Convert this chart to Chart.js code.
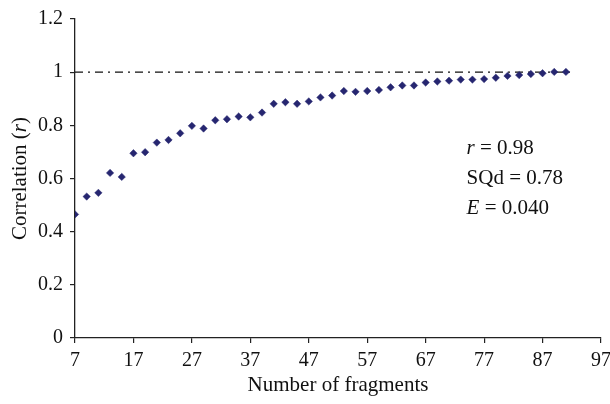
<!DOCTYPE html>
<html><head><meta charset="utf-8">
<script src="https://cdn.jsdelivr.net/npm/chart.js@4.4.0/dist/chart.umd.min.js"></script>
<style>html,body{margin:0;padding:0;background:#fff;}#wrap{width:610px;height:404px;}</style>
</head><body><div id="wrap"><canvas id="c" width="610" height="404"></canvas></div>
<script>
const fragments = [7,9,11,13,15,17,19,21,23,25,27,29,31,33,35,37,39,41,43,45,47,49,51,53,55,57,59,61,63,65,67,69,71,73,75,77,79,81,83,85,87,89,91];
const correlation = [0.465,0.532,0.546,0.621,0.606,0.695,0.699,0.735,0.745,0.770,0.798,0.788,0.819,0.823,0.833,0.830,0.848,0.881,0.887,0.881,0.890,0.905,0.912,0.929,0.926,0.929,0.933,0.943,0.950,0.950,0.961,0.965,0.968,0.972,0.972,0.974,0.979,0.986,0.989,0.993,0.996,1.001,1.001];
const refLineX = [7, 92];
const refLineY = [1, 1];
const xTicks = [7,17,27,37,47,57,67,77,87,97];
const yTicks = [0,0.2,0.4,0.6,0.8,1,1.2];
const statItalic = ['r', '', 'E'];
const statRest = [' = 0.98', 'SQd = 0.78', ' = 0.040'];
const statY = [0.713, 0.600, 0.487];
const statX = 74;
const xTitle = 'Number of fragments';
const yTitleParts = ['Correlation (', 'r', ')'];

const FONT = '"Liberation Serif", "Times New Roman", serif';
const AX = '#222';

const annot = {
  id: 'annot',
  afterDraw(chart) {
    const ctx = chart.ctx, xs = chart.scales.x, ys = chart.scales.y;
    ctx.save();
    ctx.fillStyle = '#111';
    ctx.textBaseline = 'middle';
    for (let i = 0; i < statRest.length; i++) {
      let px = xs.getPixelForValue(statX), py = ys.getPixelForValue(statY[i]);
      if (statItalic[i]) {
        ctx.font = 'italic 21px ' + FONT;
        ctx.fillText(statItalic[i], px, py);
        px += ctx.measureText(statItalic[i]).width;
      }
      ctx.font = '21px ' + FONT;
      ctx.fillText(statRest[i], px, py);
    }
    // y title
    const fonts = ['21px ' + FONT, 'italic 21px ' + FONT, '21px ' + FONT];
    let total = 0;
    const widths = yTitleParts.map((t, i) => { ctx.font = fonts[i]; const w = ctx.measureText(t).width; total += w; return w; });
    const cy = (chart.chartArea.top + chart.chartArea.bottom) / 2;
    ctx.translate(20, cy);
    ctx.rotate(-Math.PI / 2);
    let x0 = -total / 2;
    yTitleParts.forEach((t, i) => { ctx.font = fonts[i]; ctx.fillText(t, x0, 0); x0 += widths[i]; });
    ctx.restore();
  }
};

new Chart(document.getElementById('c'), {
  data: {
    datasets: [
      {
        type: 'scatter',
        order: 0,
        data: fragments.map((f, i) => ({x: f, y: correlation[i]})),
        pointStyle: 'rectRot',
        pointRadius: 3.7,
        pointHoverRadius: 3.7,
        backgroundColor: '#262670',
        borderColor: '#262670',
        borderWidth: 0.5
      },
      {
        type: 'line',
        order: 1,
        data: refLineX.map((x, i) => ({x: x, y: refLineY[i]})),
        borderColor: '#111',
        borderWidth: 1.2,
        borderDash: [8, 5, 2, 5],
        pointRadius: 0,
        fill: false
      }
    ]
  },
  options: {
    responsive: false,
    animation: false,
    devicePixelRatio: 1,
    layout: {padding: {top: 18, right: 9, left: 0, bottom: 0}},
    plugins: {legend: {display: false}, tooltip: {enabled: false}},
    scales: {
      x: {
        type: 'linear', min: 7, max: 97,
        afterBuildTicks(s) { s.ticks = xTicks.map(v => ({value: v})); },
        afterFit(s) { s.height = 66; s.paddingRight = 0; s.paddingLeft = 0; },
        ticks: {font: {family: FONT, size: 20}, color: '#111', padding: 6, maxRotation: 0, autoSkip: false,
                callback: (v) => String(v)},
        grid: {drawOnChartArea: false, drawTicks: true, tickLength: 5, color: AX, lineWidth: 1.2},
        border: {color: AX, width: 1.3},
        title: {display: true, text: xTitle, font: {family: FONT, size: 21}, color: '#111', padding: {top: 4, bottom: 6}}
      },
      y: {
        type: 'linear', min: 0, max: 1.2,
        afterBuildTicks(s) { s.ticks = yTicks.map(v => ({value: v})); },
        afterFit(s) { s.width = 75; },
        ticks: {font: {family: FONT, size: 20}, color: '#111', padding: 7, callback: (v) => String(v)},
        grid: {drawOnChartArea: false, drawTicks: true, tickLength: 5, color: AX, lineWidth: 1.2},
        border: {color: AX, width: 1.3}
      }
    }
  },
  plugins: [annot]
});
</script>
</body></html>
